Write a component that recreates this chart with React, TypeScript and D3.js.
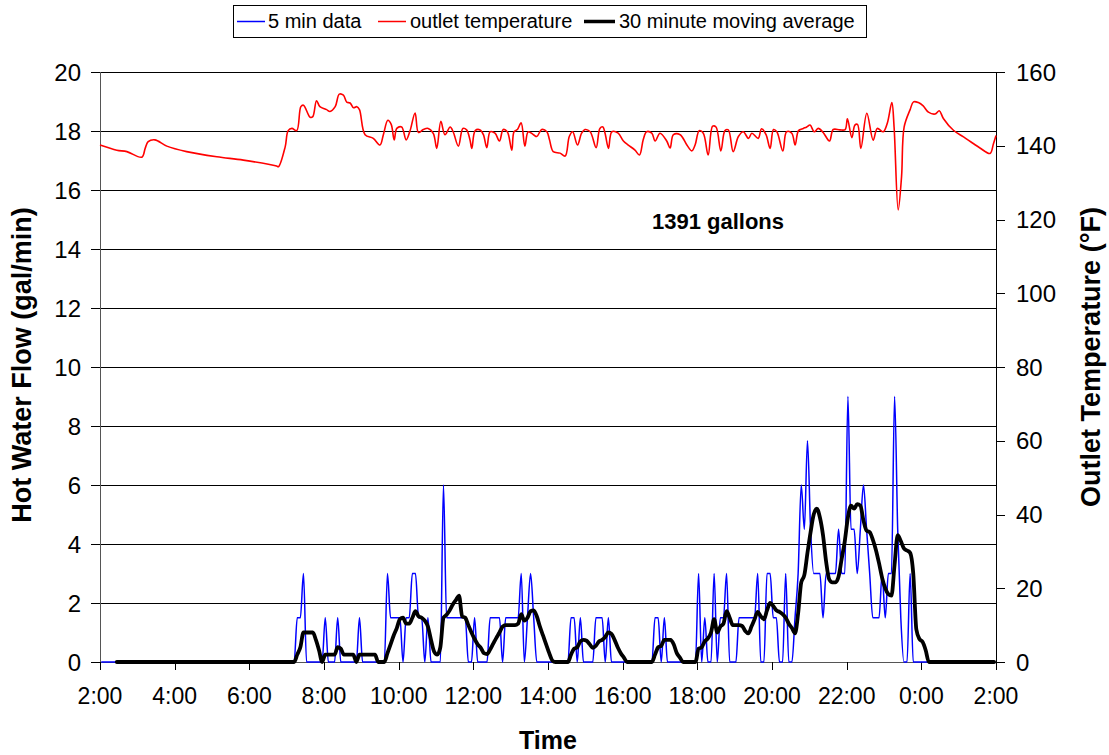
import React from "react";
import * as d3 from "d3";

const W = 1109;
const H = 755;

// 5-minute hot water flow (gal/min); one row per hour from 2:00 to 1:00
const flow5min: number[] = [
  0, 0, 0, 0, 0, 0, 0, 0, 0, 0, 0, 0,
  0, 0, 0, 0, 0, 0, 0, 0, 0, 0, 0, 0,
  0, 0, 0, 0, 0, 0, 0, 0, 0, 0, 0, 0,
  0, 0, 0, 0, 0, 0, 0, 0, 0, 0, 0, 0,
  0, 0, 0, 0, 0, 0, 0, 0, 0, 0, 0, 0,
  0, 0, 0, 1.5, 1.5, 3, 0, 0, 0, 0, 0, 0,
  1.5, 0, 0, 0, 1.5, 0, 0, 0, 0, 0, 0, 1.5,
  0, 0, 0, 0, 0, 0, 0, 0, 3, 1.5, 1.5, 1.5,
  1.5, 0, 1.5, 1.5, 3, 3, 1.5, 1.5, 0, 1.5, 0, 0,
  0, 0, 6, 1.5, 1.5, 1.5, 1.5, 1.5, 1.5, 1.5, 0, 0,
  1.5, 0, 0, 0, 0, 1.5, 1.5, 1.5, 1.5, 0, 1.5, 1.5,
  1.5, 1.5, 1.5, 3, 0, 1.5, 3, 1.5, 0, 0, 0, 0,
  0, 0, 0, 0, 0, 0, 0, 1.5, 1.5, 0, 1.5, 0,
  0, 0, 0, 1.5, 1.5, 1.5, 0, 1.5, 0, 0, 0, 0,
  0, 0, 0, 0, 0, 0, 0, 0, 0, 0, 1.5, 1.5,
  0, 1.5, 0, 0, 0, 0, 0, 0, 0, 0, 0, 0,
  3, 0, 1.5, 0, 0, 3, 0, 1.5, 1.5, 3, 0, 0,
  0, 1.5, 1.5, 1.5, 1.5, 1.5, 1.5, 3, 0, 0, 3, 3,
  1.5, 1.5, 0, 0, 3, 0, 0, 1.5, 3, 6, 4.5, 7.5,
  4.5, 3, 3, 3, 1.5, 3, 3, 3, 3, 4.5, 3, 3,
  9, 4.5, 4.5, 3, 4.5, 6, 4.5, 3, 1.5, 1.5, 1.5, 3,
  1.5, 3, 3, 9, 4.5, 1.5, 0, 0, 3, 0, 0, 0,
  0, 0, 0, 0, 0, 0, 0, 0, 0, 0, 0, 0,
  0, 0, 0, 0, 0, 0, 0, 0, 0, 0, 0, 0,
];

// 30 minute moving average (gal/min), same 5-minute sampling
const movingAvg30: (number | null)[] = [
  null, null, null, null, null, 0, 0, 0, 0, 0, 0, 0,
  0, 0, 0, 0, 0, 0, 0, 0, 0, 0, 0, 0,
  0, 0, 0, 0, 0, 0, 0, 0, 0, 0, 0, 0,
  0, 0, 0, 0, 0, 0, 0, 0, 0, 0, 0, 0,
  0, 0, 0, 0, 0, 0, 0, 0, 0, 0, 0, 0,
  0, 0, 0, 0.25, 0.5, 1, 1, 1, 1, 0.75, 0.4, 0,
  0.25, 0.25, 0.25, 0.25, 0.5, 0.45, 0.25, 0.25, 0.25, 0.25, 0, 0.25,
  0.25, 0.25, 0.25, 0.25, 0.25, 0, 0, 0, 0.3, 0.6, 0.9, 1.15,
  1.45, 1.5, 1.3, 1.3, 1.5, 1.72, 1.55, 1.5, 1.4, 1.2, 0.75, 0.35,
  0.25, 0.5, 1.5, 1.6, 1.75, 1.95, 2.1, 2.25, 1.55, 1.5, 1.25, 1.0,
  0.78, 0.6, 0.48, 0.3, 0.27, 0.42, 0.62, 0.82, 1.0, 1.2, 1.25, 1.25,
  1.25, 1.25, 1.3, 1.62, 1.4, 1.5, 1.72, 1.75, 1.55, 1.2, 0.9, 0.6,
  0.3, 0.05, 0, 0, 0, 0, 0, 0.25, 0.45, 0.5, 0.7, 0.75,
  0.72, 0.6, 0.48, 0.55, 0.7, 0.75, 0.85, 1.0, 0.95, 0.75, 0.5, 0.3,
  0.15, 0, 0, 0, 0, 0, 0, 0, 0, 0, 0.25, 0.5,
  0.55, 0.75, 0.75, 0.75, 0.6, 0.3, 0.15, 0, 0, 0, 0, 0,
  0.45, 0.5, 0.7, 0.8, 1.0, 1.45, 1.0, 1.2, 1.3, 1.72, 1.5, 1.25,
  1.25, 1.25, 1.22, 1.05, 0.97, 1.2, 1.45, 1.7, 1.55, 1.45, 1.75, 2.0,
  1.9, 1.75, 1.7, 1.62, 1.5, 1.3, 1.15, 0.97, 1.65, 2.7, 2.95, 3.7,
  4.4, 5.0, 5.2, 4.9, 4.3, 3.4, 2.8, 2.7, 2.7, 2.9, 3.5, 4.1,
  4.9, 5.3, 5.2, 5.35, 5.3, 4.8, 4.45, 4.4, 4.15, 3.8, 3.35, 2.85,
  2.5, 2.3, 2.25, 3.3, 4.3, 4.1, 3.85, 3.78, 3.7, 3.0, 1.1, 0.78,
  0.68, 0.4, 0, 0, 0, 0, 0, 0, 0, 0, 0, 0,
  0, 0, 0, 0, 0, 0, 0, 0, 0, 0, 0, 0,
];

// outlet temperature readings: hours after 2:00 and °F
const tempHours: number[] = [
  0.0, 0.45, 0.72, 1.12, 1.21, 1.29, 1.47, 1.79, 2.32, 3.13, 3.84, 4.73, 4.78, 4.96,
  5.04, 5.14, 5.27, 5.38, 5.45, 5.63, 5.7, 5.8, 5.89, 6.07, 6.16, 6.3, 6.41, 6.52,
  6.61, 6.7, 6.79, 6.88, 6.95, 7.1, 7.32, 7.5, 7.59, 7.71, 7.8, 7.88, 7.95, 8.08,
  8.2, 8.3, 8.44, 8.53, 8.66, 8.79, 8.93, 9.02, 9.13, 9.24, 9.38, 9.46, 9.6, 9.72,
  9.82, 9.91, 9.96, 10.05, 10.18, 10.27, 10.36, 10.45, 10.58, 10.7, 10.8, 10.91,
  11.03, 11.09, 11.18, 11.28, 11.38, 11.47, 11.61, 11.7, 11.83, 11.97, 12.04, 12.14,
  12.32, 12.46, 12.57, 12.66, 12.79, 12.9, 12.99, 13.13, 13.29, 13.39, 13.47, 13.53,
  13.62, 13.71, 13.88, 14.02, 14.15, 14.33, 14.45, 14.55, 14.64, 14.78, 14.87, 15.0,
  15.18, 15.27, 15.36, 15.54, 15.72, 15.85, 15.94, 16.05, 16.16, 16.29, 16.41, 16.5,
  16.63, 16.74, 16.83, 16.96, 17.1, 17.23, 17.37, 17.46, 17.63, 17.72, 17.84, 17.95,
  18.04, 18.13, 18.29, 18.39, 18.53, 18.62, 18.71, 18.84, 18.93, 19.02, 19.13, 19.24,
  19.37, 19.54, 19.64, 19.82, 19.96, 20.02, 20.14, 20.22, 20.29, 20.38, 20.54, 20.71,
  20.82, 20.98, 21.09, 21.21, 21.27, 21.38, 21.47, 21.54, 21.7, 21.79, 21.92, 22.05,
  22.19, 22.37, 22.48, 22.59, 22.86, 23.13, 23.39, 23.57, 23.84, 23.93, 24.0,
];
const tempF: number[] = [
  140.2, 138.8, 138.4, 136.9, 139.3, 141.1, 141.6, 139.9, 138.4, 137.0, 136.1, 134.5, 134.3, 139.7,
  144.1, 144.7, 144.1, 150.6, 151.0, 147.7, 147.9, 152.2, 150.6, 149.8, 149.3, 150.6, 154.0, 153.7,
  151.8, 151.6, 150.3, 150.6, 149.8, 143.0, 142.0, 140.2, 143.0, 146.9, 145.8, 141.6, 144.7, 145.1,
  141.6, 143.9, 148.9, 143.6, 144.4, 144.7, 143.3, 139.3, 146.6, 143.0, 145.1, 143.8, 139.9, 144.7,
  144.3, 141.6, 139.3, 144.1, 144.3, 143.0, 139.5, 143.8, 143.4, 141.3, 144.4, 143.8,
  138.8, 143.8, 144.4, 146.2, 139.9, 143.8, 143.0, 142.5, 144.4, 143.8, 141.6, 138.4,
  138.0, 137.2, 142.5, 143.8, 140.2, 143.4, 144.4, 143.8, 139.5, 144.7, 145.1, 143.3,
  139.3, 143.8, 143.4, 141.3, 140.2, 138.8, 137.5, 141.6, 143.8, 143.4, 141.3, 143.4,
  141.3, 139.4, 143.0, 143.0, 140.2, 138.6, 140.2, 144.1, 143.4, 137.5, 145.3, 145.1,
  138.6, 144.1, 144.3, 138.4, 142.5, 143.8, 142.0, 143.4, 142.0, 144.6, 143.0, 139.3,
  144.4, 143.8, 138.6, 143.8, 143.4, 140.2, 144.1, 144.7, 145.1, 145.6, 143.8, 144.7,
  143.6, 141.3, 144.4, 144.3, 144.4, 147.3, 142.2, 145.6, 145.8, 139.3, 148.8, 141.5,
  144.7, 143.8, 146.2, 151.7, 145.1, 122.6, 131.6, 145.1, 149.8, 151.9, 151.7, 150.8,
  149.1, 148.6, 149.5, 147.4, 144.2, 142.4, 140.6, 139.4, 137.9, 140.5, 142.8,
];

const xTickLabels = ["2:00", "4:00", "6:00", "8:00", "10:00", "12:00", "14:00", "16:00", "18:00", "20:00", "22:00", "0:00", "2:00"];
const leftTicks = [0, 2, 4, 6, 8, 10, 12, 14, 16, 18, 20];
const rightTicks = [0, 20, 40, 60, 80, 100, 120, 140, 160];

const FONT = "'Liberation Sans', Arial, Helvetica, sans-serif";

export default function App() {
  const x = d3.scaleLinear().domain([0, 24]).range([100, 996]);
  const yL = d3.scaleLinear().domain([0, 20]).range([662, 72]);
  const yR = d3.scaleLinear().domain([0, 160]).range([662, 72]);
  const sampleHour = (i: number) => (i * 5 + 2) / 60;

  const flowPath = d3
    .line<number>()
    .x((_, i) => x(sampleHour(i)))
    .y((d) => yL(d))
    .curve(d3.curveMonotoneX)(flow5min) as string;

  const maPath = d3
    .line<number | null>()
    .defined((d) => d != null)
    .x((_, i) => x(sampleHour(i)))
    .y((d) => yL(d as number))
    .curve(d3.curveMonotoneX)(movingAvg30) as string;

  const tempPath = d3
    .line<number>()
    .x((_, i) => x(tempHours[i]))
    .y((d) => yR(d))
    .curve(d3.curveCatmullRom.alpha(0.5))(tempF) as string;

  const xTicks = d3.range(0, 25, 2);

  return (
    <svg
      width={W}
      height={H}
      style={{ position: "absolute", left: 0, top: 0, background: "#fff" }}
      fontFamily={FONT}
    >
      <rect x={0} y={0} width={W} height={H} fill="#fff" />
      {/* gridlines */}
      {leftTicks.map((t) => (
        <line key={"g" + t} x1={100} x2={996} y1={Math.round(yL(t)) + 0.5} y2={Math.round(yL(t)) + 0.5} stroke="#000" strokeWidth={1} />
      ))}
      {/* axes */}
      <line x1={100.5} x2={100.5} y1={72} y2={663} stroke="#555" strokeWidth={1} />
      <line x1={996.5} x2={996.5} y1={72} y2={663} stroke="#000" strokeWidth={1} />
      <line x1={100} x2={996} y1={662.5} y2={662.5} stroke="#555" strokeWidth={1} />
      {leftTicks.map((t) => (
        <g key={"lt" + t}>
          <line x1={91} x2={100} y1={Math.round(yL(t)) + 0.5} y2={Math.round(yL(t)) + 0.5} stroke="#000" />
          <text x={81} y={yL(t)} fontSize={24} textAnchor="end" dominantBaseline="central">
            {t}
          </text>
        </g>
      ))}
      {rightTicks.map((t) => (
        <g key={"rt" + t}>
          <line x1={996} x2={1005} y1={Math.round(yR(t)) + 0.5} y2={Math.round(yR(t)) + 0.5} stroke="#000" />
          <text x={1016} y={yR(t)} fontSize={24} textAnchor="start" dominantBaseline="central">
            {t}
          </text>
        </g>
      ))}
      {xTicks.map((t, i) => (
        <g key={"xt" + t}>
          <line x1={Math.round(x(t)) + 0.5} x2={Math.round(x(t)) + 0.5} y1={662} y2={670} stroke="#000" />
          <text x={x(t)} y={704} fontSize={23} textAnchor="middle">
            {xTickLabels[i]}
          </text>
        </g>
      ))}

      {/* series */}
      <path d={flowPath} fill="none" stroke="#0000ff" strokeWidth={1.5} strokeLinejoin="round" />
      <path d={tempPath} fill="none" stroke="#ff0000" strokeWidth={1.6} strokeLinejoin="round" />
      <path d={maPath} fill="none" stroke="#000" strokeWidth={3.8} strokeLinejoin="round" strokeLinecap="round" />

      {/* annotations */}
      <text x={718} y={229} fontSize={22} fontWeight="bold" textAnchor="middle">
        1391 gallons
      </text>
      <text x={548} y={749} fontSize={25} fontWeight="bold" textAnchor="middle">
        Time
      </text>
      <text transform="translate(31,365) rotate(-90)" fontSize={27} fontWeight="bold" textAnchor="middle">
        Hot Water Flow (gal/min)
      </text>
      <text transform="translate(1100,357) rotate(-90)" fontSize={27} fontWeight="bold" textAnchor="middle">
        Outlet Temperature (°F)
      </text>

      {/* legend */}
      <rect x={233.5} y={5.5} width={633} height={32} fill="#fff" stroke="#000" strokeWidth={1} />
      <line x1={237} x2={265} y1={21.5} y2={21.5} stroke="#0000ff" strokeWidth={1.5} />
      <text x={268} y={28} fontSize={20}>5 min data</text>
      <line x1={378} x2={406} y1={21.5} y2={21.5} stroke="#ff0000" strokeWidth={1.5} />
      <text x={410} y={28} fontSize={20}>outlet temperature</text>
      <line x1={584} x2={615} y1={21.5} y2={21.5} stroke="#000" strokeWidth={3.5} />
      <text x={619} y={28} fontSize={20}>30 minute moving average</text>
    </svg>
  );
}
